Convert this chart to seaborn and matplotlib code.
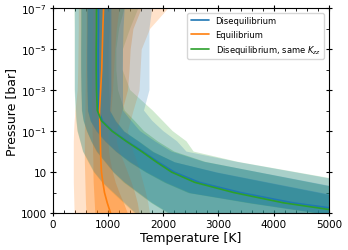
import matplotlib
matplotlib.use("Agg")
import matplotlib.pyplot as plt
import seaborn as sns
from matplotlib.ticker import FixedLocator, FixedFormatter, MultipleLocator, NullFormatter

# pressure grid [bar]
pressure = [1e-7, 1e-6, 1e-5, 1e-4, 1e-3, 1e-2, 3.16e-2, 1e-1, 3.16e-1,
            1.0, 3.16, 10.0, 31.6, 100.0, 316.0, 1000.0]

# Disequilibrium: median and 1/2/3 sigma envelopes [K]
diseq_med = [825, 825, 820, 820, 822, 830, 895, 1080, 1340, 1630, 1900, 2200, 2650, 3400, 4350, 5700]
diseq_1lo = [620, 620, 615, 615, 620, 630, 680, 790, 950, 1150, 1400, 1700, 2050, 2480, 3600, 4850]
diseq_1hi = [1050, 1050, 1050, 1050, 1050, 1030, 1130, 1280, 1550, 1800, 2200, 2975, 3920, 4870, 5800, 6700]
diseq_2lo = [520, 520, 515, 515, 520, 530, 560, 620, 700, 800, 950, 1100, 1300, 1550, 1800, 2100]
diseq_2hi = [1300, 1280, 1270, 1270, 1270, 1270, 1420, 1580, 1850, 2150, 2735, 3710, 4680, 5650, 6600, 7500]
diseq_3lo = [400, 400, 400, 400, 400, 420, 430, 450, 500, 550, 650, 750, 900, 1100, 1300, 1500]
diseq_3hi = [1800, 1750, 1750, 1750, 1750, 1650, 1800, 2000, 2250, 2420, 3330, 4370, 5400, 6400, 7400, 8400]

# Equilibrium
eq_med = [918, 905, 895, 885, 865, 845, 850, 855, 860, 864, 870, 880, 905, 935, 985, 1045]
eq_1lo = [720, 715, 710, 705, 700, 700, 705, 710, 715, 720, 725, 725, 730, 740, 750, 760]
eq_1hi = [1200, 1150, 1120, 1100, 1080, 1050, 1020, 1000, 1000, 1010, 1040, 1080, 1130, 1200, 1280, 1350]
eq_2lo = [600, 600, 595, 590, 585, 580, 575, 570, 570, 570, 570, 575, 580, 585, 590, 600]
eq_2hi = [1600, 1450, 1400, 1380, 1350, 1250, 1200, 1150, 1150, 1200, 1280, 1350, 1420, 1480, 1530, 1560]
eq_3lo = [460, 460, 455, 450, 440, 400, 385, 375, 370, 370, 370, 370, 370, 375, 380, 385]
eq_3hi = [2080, 1750, 1600, 1580, 1560, 1450, 1400, 1350, 1400, 1450, 1520, 1580, 1630, 1680, 1720, 1750]

# Disequilibrium, same Kzz
kzz_med = [790, 790, 785, 785, 790, 805, 880, 1070, 1330, 1610, 1870, 2150, 2570, 3280, 4180, 5450]
kzz_1lo = [610, 610, 610, 610, 615, 625, 675, 780, 940, 1140, 1380, 1680, 2020, 2450, 3550, 4800]
kzz_1hi = [1030, 1020, 1000, 1000, 1010, 1030, 1140, 1290, 1560, 1820, 2200, 2950, 3880, 4820, 5750, 6650]
kzz_2lo = [510, 510, 510, 510, 515, 525, 555, 615, 695, 790, 940, 1090, 1280, 1530, 1780, 2080]
kzz_2hi = [1300, 1200, 1150, 1150, 1180, 1300, 1480, 1650, 1900, 2200, 2760, 3700, 4650, 5600, 6550, 7450]
kzz_3lo = [390, 395, 395, 395, 395, 410, 425, 445, 495, 545, 640, 740, 890, 1080, 1280, 1480]
kzz_3hi = [1550, 1400, 1270, 1260, 1400, 1810, 1990, 2170, 2420, 2550, 3350, 4400, 5450, 6450, 7450, 8450]

ytick_vals = [1e-7, 1e-5, 1e-3, 1e-1, 10, 1000]
ytick_labels = ["$10^{-7}$", "$10^{-5}$", "$10^{-3}$", "$10^{-1}$", "10", "1000"]
band_alphas = [0.22, 0.3, 0.38]

sns.set_style("ticks", {"axes.edgecolor": "black", "text.color": "black",
                        "axes.labelcolor": "black", "xtick.color": "black",
                        "ytick.color": "black"})
plt.rcParams["font.family"] = ["DejaVu Sans"]

fig = plt.figure(figsize=(3.48, 2.51), dpi=100)
ax = fig.add_axes([0.152, 0.147, 0.793, 0.817])

models = [
    ("tab:green", [(kzz_3lo, kzz_3hi), (kzz_2lo, kzz_2hi), (kzz_1lo, kzz_1hi)]),
    ("tab:orange", [(eq_3lo, eq_3hi), (eq_2lo, eq_2hi), (eq_1lo, eq_1hi)]),
    ("tab:blue", [(diseq_3lo, diseq_3hi), (diseq_2lo, diseq_2hi), (diseq_1lo, diseq_1hi)]),
]

# shaded envelopes first
for color, bands in models:
    for (lo, hi), a in zip(bands, band_alphas):
        ax.fill_betweenx(pressure, lo, hi, color=color, alpha=a, lw=0)

# median profiles
sns.lineplot(x=diseq_med, y=pressure, orient="y", sort=False, color="tab:blue",
             lw=1.2, label="Disequilibrium", ax=ax)
sns.lineplot(x=eq_med, y=pressure, orient="y", sort=False, color="tab:orange",
             lw=1.2, label="Equilibrium", ax=ax)
sns.lineplot(x=kzz_med, y=pressure, orient="y", sort=False, color="tab:green",
             lw=1.2, label="Disequilibrium, same $K_{zz}$", ax=ax)

ax.set_yscale("log")
ax.set_ylim(1000, 1e-7)
ax.set_xlim(0, 5000)
ax.yaxis.set_major_locator(FixedLocator(ytick_vals))
ax.yaxis.set_major_formatter(FixedFormatter(ytick_labels))
ax.yaxis.set_minor_locator(FixedLocator([1e-6, 1e-4, 1e-2, 1, 100]))
ax.yaxis.set_minor_formatter(NullFormatter())
ax.xaxis.set_major_locator(MultipleLocator(1000))
ax.xaxis.set_minor_locator(MultipleLocator(200))
ax.tick_params(which="both", top=True, right=True, labelsize=7.5, pad=2)
ax.tick_params(which="major", direction="inout", length=5)
ax.tick_params(which="minor", direction="in", length=2.5)

ax.set_xlabel("Temperature [K]", fontsize=9, labelpad=1)
ax.set_ylabel("Pressure [bar]", fontsize=9, labelpad=2)
ax.legend(loc="upper right", fontsize=6, frameon=True, handlelength=2.2,
          borderaxespad=0.6)

fig.savefig("out.png", dpi=100)
